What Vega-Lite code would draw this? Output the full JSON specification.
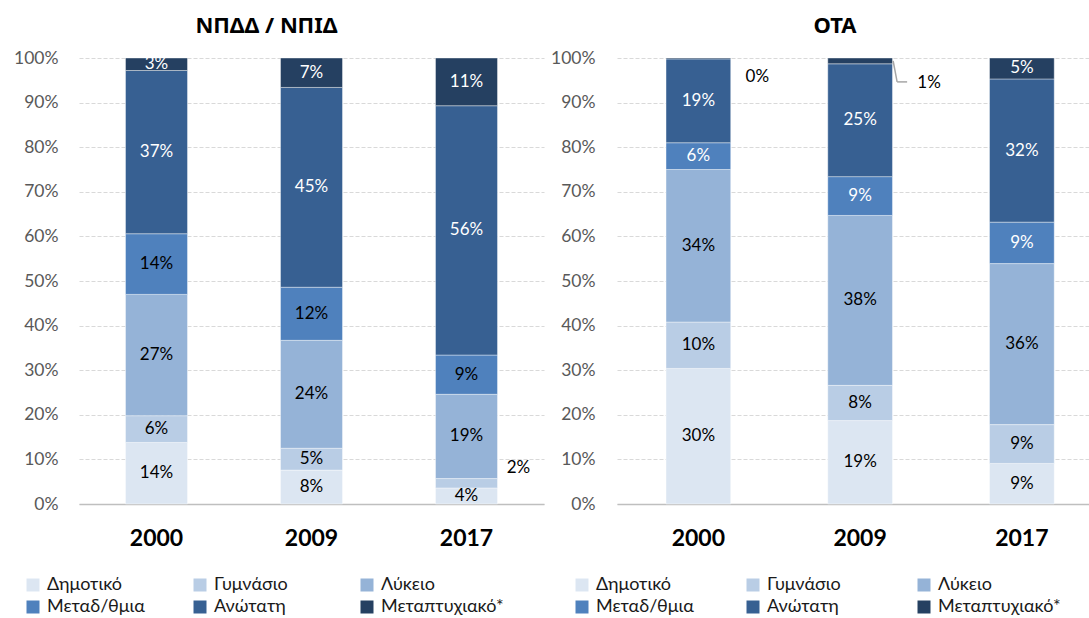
{
  "$schema": "https://vega.github.io/schema/vega-lite/v6.json",
  "padding": {"left": 0, "top": 15, "right": 0, "bottom": 0},
  "background": "white",
  "config": {
    "font": "Lato, 'Noto Sans', sans-serif",
    "view": {"stroke": null},
    "axisX": {"labelFontSize": 23, "labelFontWeight": "bold", "labelColor": "#000000", "labelFont": "Lato", "labelAngle": 0, "ticks": false, "tickSize": 0, "labelPadding": 23, "domainColor": "#BFBFBF", "domainWidth": 1.5, "title": null, "grid": false},
    "axisY": {"labelFontSize": 17.5, "labelColor": "#595959", "labelFont": "Lato", "ticks": false, "tickSize": 0, "domain": false, "gridColor": "#D9D9D9", "gridDash": [4, 2], "gridWidth": 1, "title": null, "format": ".0%", "values": [0, 0.1, 0.2, 0.3, 0.4, 0.5, 0.6, 0.7, 0.8, 0.9, 1]}
  },
  "datasets": {
    "nppd": [
      {"year": "2000", "level": "Δημοτικό", "value": 0.138},
      {"year": "2000", "level": "Γυμνάσιο", "value": 0.060},
      {"year": "2000", "level": "Λύκειο", "value": 0.272},
      {"year": "2000", "level": "Μεταδ/θμια", "value": 0.136},
      {"year": "2000", "level": "Ανώτατη", "value": 0.366},
      {"year": "2000", "level": "Μεταπτυχιακό*", "value": 0.028},
      {"year": "2009", "level": "Δημοτικό", "value": 0.076},
      {"year": "2009", "level": "Γυμνάσιο", "value": 0.049},
      {"year": "2009", "level": "Λύκειο", "value": 0.242},
      {"year": "2009", "level": "Μεταδ/θμια", "value": 0.119},
      {"year": "2009", "level": "Ανώτατη", "value": 0.448},
      {"year": "2009", "level": "Μεταπτυχιακό*", "value": 0.066},
      {"year": "2017", "level": "Δημοτικό", "value": 0.036},
      {"year": "2017", "level": "Γυμνάσιο", "value": 0.021},
      {"year": "2017", "level": "Λύκειο", "value": 0.189},
      {"year": "2017", "level": "Μεταδ/θμια", "value": 0.088},
      {"year": "2017", "level": "Ανώτατη", "value": 0.559},
      {"year": "2017", "level": "Μεταπτυχιακό*", "value": 0.107}
    ],
    "ota": [
      {"year": "2000", "level": "Δημοτικό", "value": 0.304},
      {"year": "2000", "level": "Γυμνάσιο", "value": 0.104},
      {"year": "2000", "level": "Λύκειο", "value": 0.342},
      {"year": "2000", "level": "Μεταδ/θμια", "value": 0.060},
      {"year": "2000", "level": "Ανώτατη", "value": 0.188},
      {"year": "2000", "level": "Μεταπτυχιακό*", "value": 0.002},
      {"year": "2009", "level": "Δημοτικό", "value": 0.187},
      {"year": "2009", "level": "Γυμνάσιο", "value": 0.079},
      {"year": "2009", "level": "Λύκειο", "value": 0.381},
      {"year": "2009", "level": "Μεταδ/θμια", "value": 0.087},
      {"year": "2009", "level": "Ανώτατη", "value": 0.253},
      {"year": "2009", "level": "Μεταπτυχιακό*", "value": 0.013},
      {"year": "2017", "level": "Δημοτικό", "value": 0.091},
      {"year": "2017", "level": "Γυμνάσιο", "value": 0.087},
      {"year": "2017", "level": "Λύκειο", "value": 0.361},
      {"year": "2017", "level": "Μεταδ/θμια", "value": 0.093},
      {"year": "2017", "level": "Ανώτατη", "value": 0.321},
      {"year": "2017", "level": "Μεταπτυχιακό*", "value": 0.047}
    ]
  },
  "spacing": 3,
  "resolve": {"legend": {"color": "independent"}, "scale": {"color": "independent", "x": "independent", "y": "independent"}},
  "hconcat": [
    {
      "width": 465,
      "height": 446,
      "data": {"name": "nppd"},
      "title": {"text": "ΝΠΔΔ / ΝΠΙΔ", "dx": -45, "offset": -11, "baseline": "bottom", "fontSize": 22, "fontWeight": "bold", "font": "Noto Sans", "color": "#000000", "anchor": "middle", "frame": "group"},
      "transform": [
        {"calculate": "indexof(['Δημοτικό','Γυμνάσιο','Λύκειο','Μεταδ/θμια','Ανώτατη','Μεταπτυχιακό*'], datum.level)", "as": "ord"},
        {"stack": "value", "groupby": ["year"], "sort": [{"field": "ord", "order": "ascending"}], "as": ["y0", "y1"]},
        {"calculate": "(datum.y0 + datum.y1) / 2", "as": "ymid"}
      ],
      "encoding": {
        "x": {"field": "year", "type": "nominal", "scale": {"paddingInner": 0.6, "paddingOuter": 0.3}}
      },
      "layer": [
        {
          "mark": {"type": "bar", "stroke": "#ffffff", "strokeWidth": 0.8, "strokeOpacity": 0.5},
          "encoding": {
            "y": {"field": "y0", "type": "quantitative", "scale": {"domain": [0, 1], "nice": false}, "axis": {"grid": true, "labelPadding": 21, "minExtent": 79, "maxExtent": 79}},
            "y2": {"field": "y1"},
            "color": {
              "field": "level", "type": "nominal",
              "scale": {"domain": ["Δημοτικό", "Γυμνάσιο", "Λύκειο", "Μεταδ/θμια", "Ανώτατη", "Μεταπτυχιακό*"], "range": ["#DCE6F2", "#B9CDE5", "#95B3D7", "#4F81BD", "#376092", "#254061"]},
              "legend": {"orient": "none", "legendX": -55, "legendY": 518, "direction": "horizontal", "columns": 3, "title": null, "symbolType": "square", "symbolSize": 169, "symbolStrokeWidth": 0, "labelFontSize": 18, "labelFont": "Lato", "labelColor": "#1a1a1a", "columnPadding": 21, "rowPadding": 4, "gridAlign": "all", "labelOffset": 5, "labelLimit": 220, "padding": 0}
            }
          }
        },
        {
          "transform": [{"filter": "datum.value >= 0.025"}],
          "mark": {"type": "text", "fontSize": 17, "font": "Lato"},
          "encoding": {
            "y": {"field": "ymid", "type": "quantitative"},
            "text": {"field": "value", "type": "quantitative", "format": ".0%"},
            "color": {"condition": {"test": "datum.level == 'Ανώτατη' || datum.level == 'Μεταπτυχιακό*'", "value": "#ffffff"}, "value": "#000000"}
          }
        },
        {
          "transform": [{"filter": "datum.year == '2017' && datum.level == 'Γυμνάσιο'"}],
          "mark": {"type": "text", "fontSize": 17, "font": "Lato", "dx": 52, "dy": -15, "color": "#000000"},
          "encoding": {
            "y": {"field": "ymid", "type": "quantitative"},
            "text": {"field": "value", "type": "quantitative", "format": ".0%"}
          }
        }
      ]
    },
    {
      "width": 472,
      "height": 446,
      "data": {"name": "ota"},
      "title": {"text": "ΟΤΑ", "dx": -18, "offset": -11, "baseline": "bottom", "fontSize": 22, "fontWeight": "bold", "font": "Noto Sans", "color": "#000000", "anchor": "middle", "frame": "group"},
      "transform": [
        {"calculate": "indexof(['Δημοτικό','Γυμνάσιο','Λύκειο','Μεταδ/θμια','Ανώτατη','Μεταπτυχιακό*'], datum.level)", "as": "ord"},
        {"stack": "value", "groupby": ["year"], "sort": [{"field": "ord", "order": "ascending"}], "as": ["y0", "y1"]},
        {"calculate": "(datum.y0 + datum.y1) / 2", "as": "ymid"}
      ],
      "encoding": {
        "x": {"field": "year", "type": "nominal", "scale": {"paddingInner": 0.6, "paddingOuter": 0.259, "align": 0.585}}
      },
      "layer": [
        {
          "mark": {"type": "bar", "stroke": "#ffffff", "strokeWidth": 0.8, "strokeOpacity": 0.5},
          "encoding": {
            "y": {"field": "y0", "type": "quantitative", "scale": {"domain": [0, 1], "nice": false}, "axis": {"grid": true, "labelPadding": 22, "minExtent": 70, "maxExtent": 70}},
            "y2": {"field": "y1"},
            "color": {
              "field": "level", "type": "nominal",
              "scale": {"domain": ["Δημοτικό", "Γυμνάσιο", "Λύκειο", "Μεταδ/θμια", "Ανώτατη", "Μεταπτυχιακό*"], "range": ["#DCE6F2", "#B9CDE5", "#95B3D7", "#4F81BD", "#376092", "#254061"]},
              "legend": {"orient": "none", "legendX": -44, "legendY": 518, "direction": "horizontal", "columns": 3, "title": null, "symbolType": "square", "symbolSize": 169, "symbolStrokeWidth": 0, "labelFontSize": 18, "labelFont": "Lato", "labelColor": "#1a1a1a", "columnPadding": 25, "rowPadding": 4, "gridAlign": "all", "labelOffset": 5, "labelLimit": 220, "padding": 0}
            }
          }
        },
        {
          "transform": [{"filter": "datum.value >= 0.025"}],
          "mark": {"type": "text", "fontSize": 17, "font": "Lato"},
          "encoding": {
            "y": {"field": "ymid", "type": "quantitative"},
            "text": {"field": "value", "type": "quantitative", "format": ".0%"},
            "color": {"condition": {"test": "datum.level == 'Ανώτατη' || datum.level == 'Μεταπτυχιακό*' || datum.level == 'Μεταδ/θμια'", "value": "#ffffff"}, "value": "#000000"}
          }
        },
        {
          "transform": [{"filter": "datum.year == '2000' && datum.level == 'Μεταπτυχιακό*'"}],
          "mark": {"type": "text", "fontSize": 17, "font": "Lato", "dx": 59, "dy": 19, "color": "#000000"},
          "encoding": {
            "y": {"field": "ymid", "type": "quantitative"},
            "text": {"field": "value", "type": "quantitative", "format": ".0%"}
          }
        },
        {
          "transform": [{"filter": "datum.year == '2009' && datum.level == 'Μεταπτυχιακό*'"}],
          "mark": {"type": "text", "fontSize": 17, "font": "Lato", "dx": 69, "dy": 22, "color": "#000000"},
          "encoding": {
            "y": {"field": "ymid", "type": "quantitative"},
            "text": {"field": "value", "type": "quantitative", "format": ".0%"}
          }
        },
        {
          "transform": [{"filter": "datum.year == '2009' && datum.level == 'Μεταπτυχιακό*'"}],
          "mark": {"type": "rule", "color": "#A6A6A6", "strokeWidth": 1.5, "xOffset": 33, "x2Offset": 37, "y2Offset": 21},
          "encoding": {
            "y": {"field": "ymid", "type": "quantitative"},
            "y2": {"field": "ymid"},
            "x2": {"field": "year"}
          }
        },
        {
          "transform": [{"filter": "datum.year == '2009' && datum.level == 'Μεταπτυχιακό*'"}],
          "mark": {"type": "rule", "color": "#A6A6A6", "strokeWidth": 1.5, "xOffset": 37, "x2Offset": 47, "yOffset": 21},
          "encoding": {
            "y": {"field": "ymid", "type": "quantitative"},
            "x2": {"field": "year"}
          }
        }
      ]
    }
  ]
}
